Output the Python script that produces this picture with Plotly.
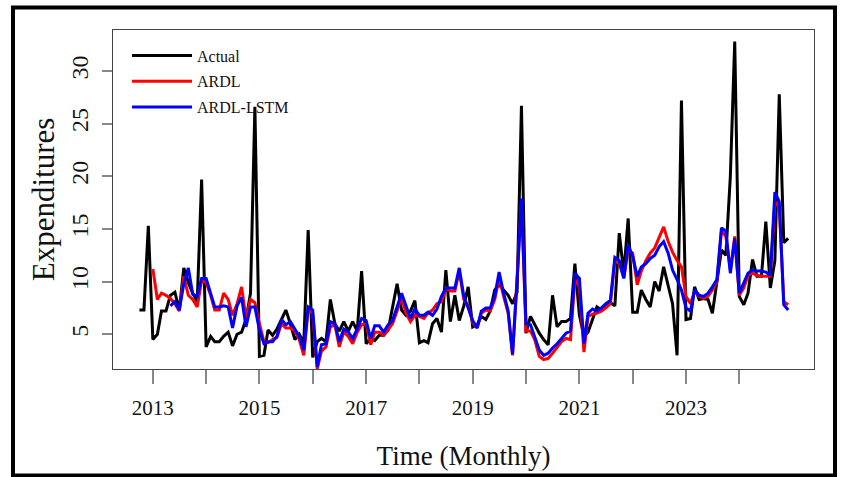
import pandas as pd
import plotly.graph_objects as go

# Monthly observations, Oct 2012 - Dec 2024
start_month = "2012-10-01"
actual = [7.3, 7.3, 15.3, 4.5, 5.0, 7.2, 7.2, 8.7, 9.0, 7.3, 11.3, 9.9, 8.9, 8.1, 19.7,
          3.8, 4.8, 4.3, 4.3, 4.8, 5.2, 3.9, 5.0, 5.2, 6.4, 8.9, 26.6,
          2.9, 3.0, 5.4, 4.9, 5.5, 6.4, 7.3, 6.0, 4.5, 5.0, 4.2, 14.9,
          2.8, 4.3, 4.6, 4.3, 8.3, 6.0, 5.3, 6.2, 5.3, 6.2, 5.3, 11.0,
          4.1, 4.6, 4.4, 4.9, 4.9, 5.4, 7.5, 9.8, 7.3, 6.8, 7.2, 8.2,
          4.2, 4.4, 4.2, 6.0, 6.5, 5.2, 11.1, 6.2, 8.7, 6.3, 7.7, 9.5,
          5.7, 5.9, 6.7, 6.4, 7.2, 9.2, 9.7, 9.2, 8.7, 7.9, 9.0, 26.7,
          5.1, 6.7, 5.9, 5.1, 4.5, 4.0, 8.7, 5.7, 6.2, 6.2, 6.5, 11.7,
          6.8, 4.8, 5.2, 6.4, 7.6, 7.3, 7.6, 8.0, 7.7, 14.6, 10.8, 16.0,
          7.1, 7.1, 9.2, 8.3, 7.6, 10.0, 9.1, 11.4, 9.5, 7.9, 3.0, 27.2,
          6.4, 6.5, 9.5, 8.3, 8.4, 8.3, 7.0, 10.2, 13.0, 12.5, 20.0, 32.8,
          8.6, 7.8, 8.9, 12.1, 10.5, 10.5, 15.7, 9.4, 12.0, 27.8, 13.7, 14.1]

# ARDL fitted values start Jan 2013 (4th month)
ardl_offset = 3
ardl = [11.2, 8.3, 8.9, 8.7, 8.4, 7.9, 7.2, 10.5, 8.7, 8.3, 7.6, 10.1,
        9.9, 8.7, 7.3, 7.3, 8.9, 8.3, 6.8, 7.9, 9.5, 6.5, 8.3, 8.0,
        6.0, 4.3, 4.2, 4.5, 4.7, 6.0, 5.6, 5.6, 5.3, 4.5, 3.0, 7.3,
        7.0, 1.7, 3.4, 3.8, 5.7, 5.9, 3.8, 5.2, 4.8, 4.1, 5.2, 5.9,
        6.0, 4.0, 5.2, 5.2, 4.9, 5.5, 6.0, 7.2, 8.6, 7.0, 6.2, 6.8,
        6.7, 6.5, 7.0, 7.3, 7.9, 8.1, 9.4, 9.1, 9.1, 11.0, 8.3, 7.7,
        6.1, 5.6, 7.0, 7.3, 7.2, 8.3, 10.4, 8.6, 7.0, 3.0, 10.0, 17.6,
        5.3, 5.3, 4.5, 2.9, 2.6, 2.7, 3.2, 3.7, 4.3, 4.6, 4.5, 10.2,
        9.5, 3.3, 6.7, 6.9, 7.0, 7.2, 7.5, 7.9, 12.0, 11.7, 10.4, 13.0,
        12.7, 9.7, 11.0, 12.0, 12.7, 13.2, 14.1, 15.2, 13.8, 12.8, 12.0, 11.4,
        8.6, 7.9, 9.1, 8.6, 8.4, 8.6, 9.2, 10.0, 14.8, 14.3, 11.1, 14.3,
        8.7, 9.4, 10.6, 10.8, 10.6, 10.5, 10.5, 10.5, 17.6, 17.1, 8.1, 7.8]

# ARDL-LSTM fitted values start May 2013 (8th month)
lstm_offset = 7
ardl_lstm = [7.7, 8.1, 7.3, 9.8, 11.3, 8.8, 8.6, 10.3,
             10.3, 9.0, 7.6, 7.6, 7.7, 7.6, 5.6, 7.7, 8.5, 5.7, 7.6, 7.6,
             5.4, 4.1, 4.3, 4.3, 4.8, 6.4, 5.9, 6.2, 5.5, 4.8, 3.5, 7.6,
             7.3, 1.9, 4.0, 4.1, 6.2, 6.0, 4.3, 5.5, 5.2, 4.6, 5.5, 6.5,
             6.3, 4.6, 5.8, 5.8, 5.2, 5.9, 6.3, 7.7, 8.9, 7.7, 6.5, 7.4,
             6.8, 6.8, 7.1, 6.8, 7.4, 8.6, 9.4, 9.4, 9.4, 11.3, 8.6, 7.5,
             6.3, 5.6, 7.2, 7.5, 7.5, 8.6, 10.9, 8.9, 7.2, 3.1, 10.0, 17.9,
             6.0, 5.9, 4.8, 3.5, 3.0, 3.2, 3.7, 4.1, 4.6, 5.1, 5.3, 10.8,
             10.3, 4.1, 7.0, 7.4, 7.2, 7.5, 7.9, 8.2, 12.3, 12.0, 10.3, 13.5,
             12.4, 10.5, 11.4, 11.7, 12.2, 12.5, 13.3, 13.8, 12.7, 11.1, 10.2, 9.2,
             7.5, 7.2, 9.2, 8.7, 8.6, 8.9, 9.5, 10.2, 15.1, 14.8, 10.8, 14.1,
             8.9, 9.8, 10.8, 11.1, 11.0, 11.0, 10.9, 10.6, 18.5, 17.6, 7.8, 7.3]

tick_years = list(range(2013, 2025))
tick_labels = [str(y) if y % 2 == 1 else "" for y in tick_years]
y_ticks = [5, 10, 15, 20, 25, 30]

dates = pd.date_range(start_month, periods=len(actual), freq="MS")

FONT = "Liberation Serif, Times New Roman, serif"

fig = go.Figure()
fig.add_trace(go.Scatter(x=dates, y=actual, mode="lines", name="Actual",
                         legendgroup="a", line=dict(color="black", width=3)))
fig.add_trace(go.Scatter(x=dates[ardl_offset:ardl_offset + len(ardl)], y=ardl,
                         mode="lines", name="ARDL", legendgroup="b",
                         line=dict(color="#ff0000", width=3)))
fig.add_trace(go.Scatter(x=dates[lstm_offset:lstm_offset + len(ardl_lstm)], y=ardl_lstm,
                         mode="lines", name="ARDL-LSTM", legendgroup="c",
                         line=dict(color="#0000ff", width=3)))

fig.update_layout(
    width=844, height=477,
    margin=dict(l=113, r=30, t=30, b=108),
    paper_bgcolor="white", plot_bgcolor="white",
    font=dict(family=FONT, color="#111111"),
    showlegend=True,
    legend=dict(x=0.02, y=0.975, xanchor="left", yanchor="top",
                bgcolor="rgba(0,0,0,0)", font=dict(size=16, family=FONT),
                itemwidth=60, tracegroupgap=2, traceorder="grouped"),
    xaxis=dict(
        range=["2012-04-03", "2025-05-27"],
        tickmode="array",
        tickvals=[f"{y}-01-01" for y in tick_years],
        ticktext=tick_labels,
        ticks="outside", ticklen=14, tickwidth=1.5, tickcolor="#888888",
        ticklabelstandoff=6,
        tickfont=dict(size=21, family=FONT),
        showgrid=False, zeroline=False,
        showline=True, linecolor="#444444", linewidth=1.2, mirror=True,
        title=dict(text="Time (Monthly)", font=dict(size=27, family=FONT), standoff=26),
    ),
    yaxis=dict(
        range=[1.7, 33.9],
        tickmode="array", tickvals=y_ticks,
        ticks="outside", ticklen=10, tickwidth=1.5, tickcolor="#888888",
        tickangle=-90, ticklabelstandoff=4,
        tickfont=dict(size=24, family=FONT),
        showgrid=False, zeroline=False,
        showline=True, linecolor="#444444", linewidth=1.2, mirror=True,
        title=dict(text="Expenditures", font=dict(size=31, family=FONT), standoff=3),
    ),
    shapes=[dict(type="rect", xref="paper", yref="paper",
                 x0=(13 - 113) / 701, x1=(835 - 113) / 701,
                 y0=(369 - 475.5) / 339, y1=(369 - 7.5) / 339,
                 line=dict(color="black", width=4), fillcolor="rgba(0,0,0,0)",
                 layer="below")],
)

fig.write_html("out.html", config={"displayModeBar": False},
               post_script="document.body.style.margin='0';document.body.style.overflow='hidden';")
